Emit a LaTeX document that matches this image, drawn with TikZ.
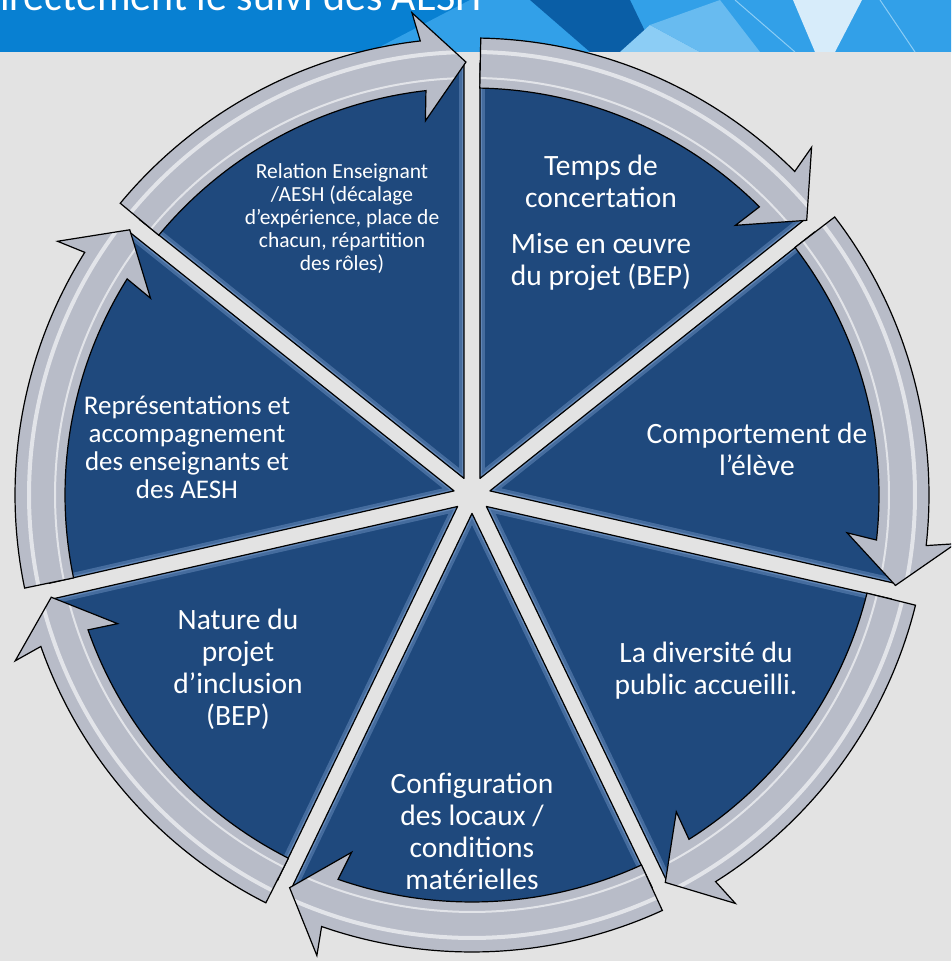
\documentclass[tikz,border=0pt]{standalone}
\usepackage{fontspec}
\setmainfont{Carlito}
\usepackage{tikz}

\definecolor{segblue}{RGB}{31,73,125}
\definecolor{segglow}{RGB}{140,175,220}
\definecolor{ringgray}{RGB}{184,188,200}
\definecolor{backgray}{RGB}{227,227,227}
\definecolor{barblue}{RGB}{8,128,210}
\definecolor{barlight}{RGB}{50,160,232}
\definecolor{bardark}{RGB}{10,94,166}
\definecolor{barpale}{RGB}{140,205,245}
\definecolor{barwhite}{RGB}{215,236,250}

\begin{document}
\begin{tikzpicture}[x=1pt,y=1pt,
    segline/.style={draw=black,line width=1.2pt,line join=round},
    ringedge/.style={draw=black,line width=1.2pt,line join=miter},
    shine/.style={white,opacity=0.6},
    seglabel/.style={text=white,align=center,inner sep=0pt},
    bigtext/.style={seglabel,font=\fontsize{29.5}{32}\selectfont},
    midtext/.style={seglabel,font=\fontsize{27}{28}\selectfont},
    smalltext/.style={seglabel,font=\fontsize{21.5}{23}\selectfont}]
  \clip (0,0) rectangle (951,961);
  \fill[backgray] (0,0) rectangle (951,961);

  % bandeau du titre
  \fill[barblue] (0,909) rectangle (951,961);
  \fill[barlight] (370,909) -- (470,961) -- (951,961) -- (951,909) -- cycle;
  \fill[bardark] (530,961) -- (630,961) -- (655,909) -- (590,909) -- cycle;
  \fill[barpale] (620,909) -- (650,936) -- (700,909) -- cycle;
  \fill[barpale!60!barlight] (650,936) -- (720,961) -- (760,909) -- (700,909) -- cycle;
  \fill[barwhite] (793,961) -- (862,961) -- (835,909) -- (815,909) -- cycle;
  \draw[barpale,line width=1pt] (735,961) -- (795,909) (880,961) -- (915,909);
  \node[anchor=base west,inner sep=0pt,text=white,font=\fontsize{42}{48}\selectfont]
    (title) at (0,950) {irectement le suivi des AESH};

  \begin{scope}[shift={(472,466)}]
    % secteurs
    \foreach \k in {0,...,6}{
      \pgfmathsetmacro{\angA}{90-\k*360/7}
      \pgfmathsetmacro{\angB}{\angA-360/7}
      \pgfmathsetmacro{\angM}{\angA-180/7}
      \def\wpath{(\angM:18.4) -- (\angA-1.06:432)
        arc[start angle=\angA-1.06,end angle=\angB+1.06,radius=432] -- cycle}
      \begin{scope}
        \clip \wpath;
        \fill[segblue] \wpath;
        \draw[segglow,line width=10pt,opacity=0.35] \wpath;
        \draw[segglow,line width=4pt,opacity=0.4] \wpath;
      \end{scope}
      \draw[segline] \wpath;
    }
    % fleches circulaires
    \foreach \k in {0,...,6}{
      \pgfmathsetmacro{\angA}{90-\k*360/7}
      \pgfmathsetmacro{\angB}{\angA-360/7}
      \pgfmathsetmacro{\angT}{\angA-1.1}
      \pgfmathsetmacro{\angH}{\angB+6.5}
      \def\apath{(\angT:407) -- (\angT:457)
        arc[start angle=\angT,end angle=\angH,radius=457]
        -- (\angH+0.6:486) -- (\angB+0.8:433) -- (\angH+0.6:377) -- (\angH:407)
        arc[start angle=\angH,end angle=\angT,radius=407] -- cycle}
      \begin{scope}
        \clip \apath;
        \fill[ringgray] \apath;
        \draw[shine,line width=4pt] (\angT:443) arc[start angle=\angT,end angle=\angB,radius=443];
        \draw[shine,line width=2pt] (\angT:417) arc[start angle=\angT,end angle=\angB,radius=417];
      \end{scope}
      \draw[ringedge] \apath;
    }
  \end{scope}

  \node[bigtext] (temps) at (601,738)
    {Temps de\\concertation\\[14pt]Mise en œuvre\\du projet (BEP)};
  \node[bigtext] (comport) at (757,512) {Comportement de\\l’élève};
  \node[bigtext] (diversite) at (706,290) {La diversité du\\public accueilli.};
  \node[bigtext] (config) at (472,130)
    {Configuration\\des locaux /\\conditions\\matérielles};
  \node[bigtext] (nature) at (238,292) {Nature du\\projet\\d’inclusion\\(BEP)};
  \node[midtext] (represent) at (187,514)
    {Représentations et\\accompagnement\\des enseignants et\\des AESH};
  \node[smalltext] (relation) at (342,742)
    {Relation Enseignant\\/AESH (décalage\\d’expérience, place de\\chacun, répartition\\des rôles)};
\end{tikzpicture}
\end{document}
